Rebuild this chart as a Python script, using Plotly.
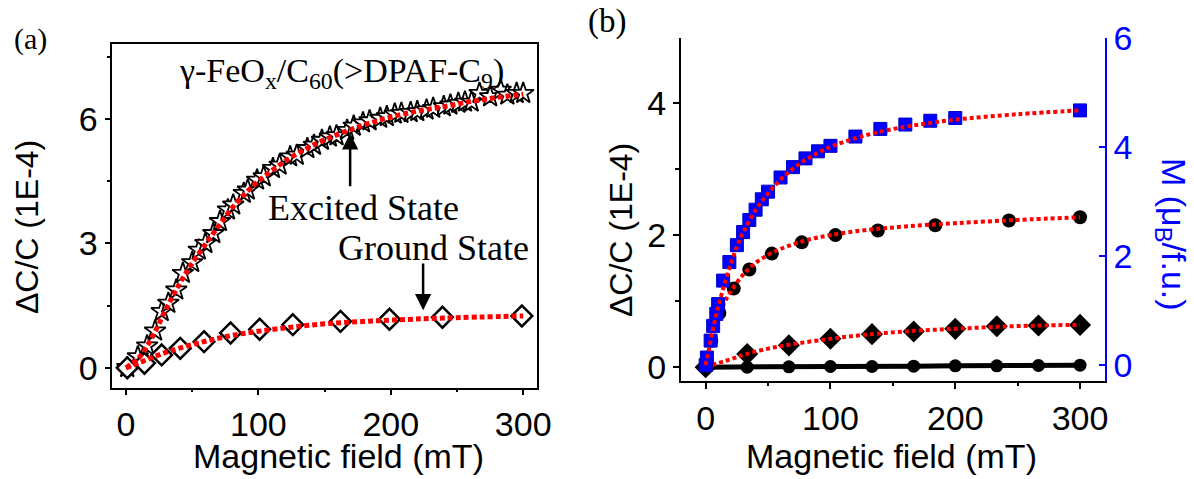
import plotly.graph_objects as go

# ---------------- data: panel (a) ----------------
excited_x = [1, 9, 16, 22, 27, 32, 38, 43, 50, 55, 60, 66, 71, 77, 81, 89, 92, 99, 104, 111,
             116, 124, 129, 137, 142, 148, 154, 159, 167, 172, 179, 184, 192, 197, 203, 208,
             215, 220, 227, 232, 240, 245, 251, 256, 261, 267, 275, 283, 288, 295, 300]
excited_y = [0.01, 0.27, 0.53, 0.89, 1.36, 1.56, 1.88, 2.28, 2.54, 2.84, 3.00, 3.24, 3.53, 3.81,
             3.93, 4.21, 4.29, 4.53, 4.61, 4.81, 4.89, 5.09, 5.13, 5.29, 5.37, 5.49, 5.57, 5.60,
             5.73, 5.83, 5.91, 5.96, 6.02, 6.06, 6.12, 6.14, 6.16, 6.18, 6.22, 6.26, 6.30, 6.34,
             6.38, 6.41, 6.41, 6.62, 6.54, 6.70, 6.58, 6.62, 6.62]
excited_fit_x = [0, 10, 20, 30, 40, 50, 60, 70, 80, 90, 100, 120, 140, 160, 180, 200, 220, 240, 260, 280, 300]
excited_fit_y = [0, 0.25, 0.75, 1.4, 2.0, 2.52, 2.98, 3.42, 3.85, 4.2, 4.5, 4.98, 5.35, 5.63, 5.86,
                 6.05, 6.19, 6.3, 6.42, 6.52, 6.6]

ground_x = [1, 14, 27, 41, 59, 79, 101, 126, 162, 199, 239, 299]
ground_y = [0.0, 0.11, 0.31, 0.47, 0.63, 0.84, 0.93, 1.04, 1.12, 1.17, 1.22, 1.25]
ground_fit_x = [0, 10, 20, 30, 40, 60, 80, 100, 125, 150, 175, 200, 240, 300]
ground_fit_y = [0, 0.12, 0.25, 0.37, 0.47, 0.64, 0.78, 0.88, 0.98, 1.06, 1.11, 1.15, 1.2, 1.25]

# ---------------- data: panel (b) ----------------
circ_x = [0, 4.5, 11, 22.5, 35, 53, 77, 104, 138, 184, 243, 300]
circ_y = [0.0, 0.40, 0.82, 1.19, 1.48, 1.72, 1.89, 2.00, 2.07, 2.15, 2.22, 2.27]
circ_fit_x = [0, 5, 10, 15, 20, 30, 40, 50, 60, 80, 100, 130, 160, 200, 250, 300]
circ_fit_y = [0, 0.45, 0.76, 0.98, 1.14, 1.4, 1.58, 1.7, 1.79, 1.92, 2.0, 2.08, 2.13, 2.18, 2.23, 2.27]

dia_x = [0, 33.3, 66.7, 100, 133.3, 166.7, 200, 233.3, 266.7, 300]
dia_y = [0.0, 0.20, 0.33, 0.43, 0.50, 0.54, 0.58, 0.62, 0.63, 0.64]
dia_fit_x = [0, 20, 33, 50, 67, 100, 133, 167, 200, 233, 267, 300]
dia_fit_y = [0, 0.12, 0.2, 0.28, 0.34, 0.43, 0.5, 0.55, 0.58, 0.61, 0.63, 0.64]

ref_x = [0, 33.3, 66.7, 100, 133.3, 166.7, 200, 233.3, 266.7, 300]
ref_y = [0.0, 0.0, 0.005, 0.01, 0.01, 0.015, 0.02, 0.02, 0.025, 0.03]

mag_x = [0, 1, 4, 6, 8.5, 10, 14, 19, 25, 30, 35, 40, 45, 50, 60, 70, 80, 90, 100, 120, 140, 160, 180, 200, 300]
mag_y = [0.0, 0.14, 0.45, 0.72, 0.94, 1.12, 1.55, 1.89, 2.20, 2.44, 2.66, 2.85, 3.04, 3.18, 3.44,
         3.63, 3.79, 3.92, 4.02, 4.19, 4.33, 4.41, 4.48, 4.53, 4.67]
mag_fit_x = [0, 2, 4, 6, 8, 10, 14, 20, 25, 30, 40, 50, 60, 70, 80, 90, 100, 120, 140, 160, 180, 200, 250, 300]
mag_fit_y = [0, 0.22, 0.45, 0.68, 0.88, 1.06, 1.4, 1.85, 2.17, 2.43, 2.84, 3.15, 3.4, 3.6, 3.76, 3.89,
             4.0, 4.16, 4.28, 4.37, 4.44, 4.5, 4.6, 4.67]

x_ticks = [0, 100, 200, 300]
x_minor = [50, 150, 250]
a_y_ticks = [0, 3, 6]
a_y_minor = [1.5, 4.5, 7.5]
b_y_ticks = [0, 2, 4]
b_y_minor = [1, 3]
m_ticks = [0, 2, 4, 6]

ARIAL = "Arial, Liberation Sans, sans-serif"
TIMES = "Times New Roman, Liberation Serif, serif"
RED = "#FF0000"
BLUE = "#0000FF"
W, H = 1194, 479

fig = go.Figure()

# ---- panel (a)
fig.add_trace(go.Scatter(x=excited_x, y=excited_y, mode="markers", xaxis="x", yaxis="y",
                         marker=dict(symbol="star", size=16, color="white",
                                     line=dict(color="black", width=1.8))))
fig.add_trace(go.Scatter(x=ground_x, y=ground_y, mode="markers", xaxis="x", yaxis="y",
                         marker=dict(symbol="diamond", size=16, color="white",
                                     line=dict(color="black", width=2.5))))
fig.add_trace(go.Scatter(x=excited_fit_x, y=excited_fit_y, mode="lines", xaxis="x", yaxis="y",
                         line=dict(color=RED, width=5, dash="5px,3px", shape="spline")))
fig.add_trace(go.Scatter(x=ground_fit_x, y=ground_fit_y, mode="lines", xaxis="x", yaxis="y",
                         line=dict(color=RED, width=5, dash="5px,3px", shape="spline")))

# ---- panel (b)
fig.add_trace(go.Scatter(x=mag_x, y=mag_y, mode="markers", xaxis="x2", yaxis="y3",
                         marker=dict(symbol="square", size=13, color=BLUE,
                                     line=dict(color="#0000C8", width=1))))
fig.add_trace(go.Scatter(x=circ_x, y=circ_y, mode="markers", xaxis="x2", yaxis="y2",
                         marker=dict(symbol="circle", size=14, color="black")))
fig.add_trace(go.Scatter(x=dia_x, y=dia_y, mode="markers", xaxis="x2", yaxis="y2",
                         marker=dict(symbol="diamond", size=17, color="black")))
fig.add_trace(go.Scatter(x=ref_x, y=ref_y, mode="lines+markers", xaxis="x2", yaxis="y2",
                         line=dict(color="black", width=5),
                         marker=dict(symbol="circle", size=13, color="black")))
fig.add_trace(go.Scatter(x=mag_fit_x, y=mag_fit_y, mode="lines", xaxis="x2", yaxis="y3",
                         line=dict(color=RED, width=4, dash="4px,3px", shape="spline")))
fig.add_trace(go.Scatter(x=circ_fit_x, y=circ_fit_y, mode="lines", xaxis="x2", yaxis="y2",
                         line=dict(color=RED, width=4, dash="4px,3px", shape="spline")))
fig.add_trace(go.Scatter(x=dia_fit_x, y=dia_fit_y, mode="lines", xaxis="x2", yaxis="y2",
                         line=dict(color=RED, width=4, dash="4px,3px", shape="spline")))

tickfont = dict(family=ARIAL, size=34, color="black")
common = dict(showgrid=False, zeroline=False, showline=True, linecolor="black", linewidth=1.5,
              ticks="outside", ticklen=6, tickwidth=1.5, tickcolor="black", tickfont=tickfont,
              automargin=False)

ax_a = [112.3 / W, 537 / W]
ay_a = [1 - 387.7 / H, 1 - 44 / H]
ax_b = [680.7 / W, 1105 / W]
ay_b = [1 - 381 / H, 1 - 37.7 / H]

fig.update_layout(
    width=W, height=H, margin=dict(l=0, r=0, t=0, b=0, autoexpand=False),
    paper_bgcolor="white", plot_bgcolor="white", showlegend=False,
    xaxis=dict(domain=ax_a, anchor="y", range=[-10.3, 310.4], tickvals=x_ticks, mirror=True,
               minor=dict(tickvals=x_minor, ticklen=3, tickwidth=1.5, ticks="outside", tickcolor="black"),
               **common),
    yaxis=dict(domain=ay_a, anchor="x", range=[-0.48, 7.81], tickvals=a_y_ticks, mirror=True,
               minor=dict(tickvals=a_y_minor, ticklen=4, tickwidth=1.5, ticks="outside", tickcolor="black"),
               **common),
    xaxis2=dict(domain=ax_b, anchor="y2", range=[-20, 320], tickvals=x_ticks,
                minor=dict(tickvals=x_minor, ticklen=3, tickwidth=1.5, ticks="outside", tickcolor="black"),
                **common),
    xaxis3=dict(domain=ax_b, anchor="y2", overlaying="x2", side="top", range=[-20, 320],
                tickvals=x_ticks, showticklabels=False, showgrid=False, zeroline=False,
                showline=True, linecolor="black", linewidth=1.5, ticks="inside", ticklen=5,
                tickwidth=1.5, tickcolor="black", automargin=False),
    yaxis2=dict(domain=ay_b, anchor="x2", range=[-0.21, 4.99], tickvals=b_y_ticks,
                minor=dict(tickvals=b_y_minor, ticklen=4, tickwidth=1.5, ticks="outside", tickcolor="black"),
                **common),
    yaxis3=dict(domain=ay_b, anchor="x2", overlaying="y2", side="right", range=[-0.29, 6.002],
                tickvals=m_ticks, showgrid=False, zeroline=False, showline=True, linecolor=BLUE,
                linewidth=1.5, ticks="inside", ticklen=6, tickwidth=1.5, tickcolor=BLUE,
                tickfont=dict(family=ARIAL, size=34, color=BLUE), automargin=False),
)

C = dict(xanchor="center", yanchor="middle")
ann = []
# panel labels
ann.append(dict(text="(a)", x=30 / W, y=1 - 39 / H, xref="paper", yref="paper", showarrow=False,
                font=dict(family=TIMES, size=30, color="black"), **C))
ann.append(dict(text="(b)", x=607 / W, y=1 - 22 / H, xref="paper", yref="paper", showarrow=False,
                font=dict(family=TIMES, size=33, color="black"), **C))
# axis titles
for xc in (338.7, 891.5):
    ann.append(dict(text="Magnetic field (mT)", x=xc / W, y=1 - 456 / H, xref="paper", yref="paper",
                    showarrow=False, font=dict(family=ARIAL, size=34, color="black"), **C))
for xc, yc in ((27, 227), (621, 230)):
    ann.append(dict(text="ΔC/C (1E-4)", x=xc / W, y=1 - yc / H, xref="paper", yref="paper",
                    textangle=-90, showarrow=False, font=dict(family=ARIAL, size=32, color="black"), **C))
ann.append(dict(text="M (μ<sub>B</sub>/f.u.)", x=1172 / W, y=1 - 234 / H, xref="paper", yref="paper",
                textangle=90, showarrow=False, font=dict(family=ARIAL, size=34, color=BLUE), **C))
# panel (a) texts
ann.append(dict(text="γ-FeO<sub>x</sub>/C<sub>60</sub>(&gt;DPAF-C<sub>9</sub>)", x=163, y=7.66,
                xref="x", yref="y", xanchor="center", yanchor="top", showarrow=False,
                font=dict(family=TIMES, size=34, color="black")))
ann.append(dict(text="Excited State", x=179.5, y=3.85, xref="x", yref="y", showarrow=False,
                font=dict(family=TIMES, size=36, color="black"), **C))
ann.append(dict(text="Ground State", x=232.5, y=2.89, xref="x", yref="y", showarrow=False,
                font=dict(family=TIMES, size=36, color="black"), **C))
# arrows
ann.append(dict(text="", x=169.3, y=5.66, ax=169.3, ay=4.34, xref="x", yref="y", axref="x", ayref="y",
                showarrow=True, arrowhead=2, arrowsize=1.3, arrowwidth=2.5, arrowcolor="black"))
ann.append(dict(text="", x=224.4, y=1.39, ax=224.4, ay=2.55, xref="x", yref="y", axref="x", ayref="y",
                showarrow=True, arrowhead=2, arrowsize=1.3, arrowwidth=2.5, arrowcolor="black"))
fig.update_layout(annotations=ann)

fig.write_html("out.html")
